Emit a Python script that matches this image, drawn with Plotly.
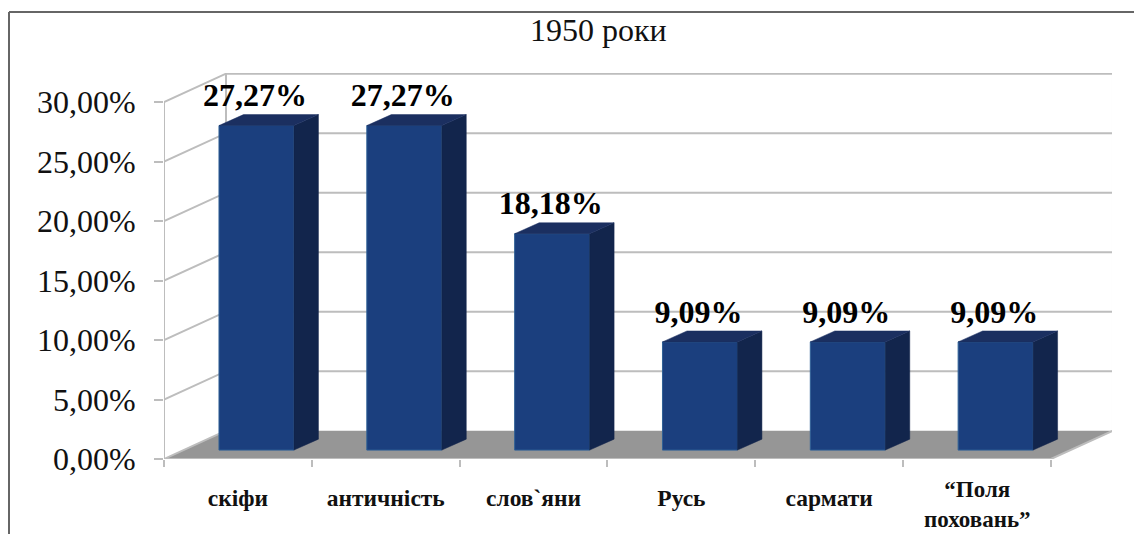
import plotly.graph_objects as go

categories = ["скіфи", "античність", "слов`яни", "Русь", "сармати", "“Поля<br>поховань”"]
values = [27.27, 27.27, 18.18, 9.09, 9.09, 9.09]
value_labels = ["27,27%", "27,27%", "18,18%", "9,09%", "9,09%", "9,09%"]
y_ticks = [0, 5, 10, 15, 20, 25, 30]
y_tick_labels = ["0,00%", "5,00%", "10,00%", "15,00%", "20,00%", "25,00%", "30,00%"]
title_text = "1950 роки"

W, H = 1134, 534
L, R, T, B = 164, 1112, 73, 459
x_unit = 147.83
y_unit = 11.9
x0 = -0.5
x_max = x0 + (R - L) / x_unit
y_max = (B - T) / y_unit
wall_dx, wall_dy = 62 / x_unit, 28.3 / y_unit
bar_off, bar_w, bar_base = 0.1255, 0.507, 0.75
bar_dx, bar_dy = 24.5 / x_unit, 0.92
n = len(categories)
x_end = x0 + n

FRONT, SIDE, TOP_C = "#1b3f7e", "#12254c", "#1b2f60"
GRID, FLOOR, INK = "#bdbdbd", "#969696", "#111111"
SERIF = "Liberation Serif, Times New Roman, serif"


def path(points):
    return "M " + " L ".join(f"{a},{b}" for a, b in points)


shapes = []
# floor and walls (below the bars)
shapes.append(dict(type="path", layer="below", xref="x", yref="y", line=dict(width=0), fillcolor=FLOOR,
                   path=path([(x0, 0), (x_end, 0), (x_end + wall_dx, wall_dy), (x0 + wall_dx, wall_dy)]) + " Z"))
for t in y_ticks[1:]:
    shapes.append(dict(type="path", layer="below", xref="x", yref="y", line=dict(color=GRID, width=2),
                       path=path([(x0, t), (x0 + wall_dx, t + wall_dy), (x_end + wall_dx, t + wall_dy)])))
for xv in (x0, x0 + wall_dx, x_end + wall_dx):
    base = wall_dy if xv != x0 else 0
    shapes.append(dict(type="line", layer="below", xref="x", yref="y", x0=xv, x1=xv, y0=base,
                       y1=y_ticks[-1] + base, line=dict(color=GRID, width=2)))
shapes.append(dict(type="path", layer="below", xref="x", yref="y", line=dict(color=GRID, width=2),
                   path=path([(x0, 0), (x_end, 0), (x_end + wall_dx, wall_dy)])))
shapes.append(dict(type="path", layer="below", xref="x", yref="y", line=dict(color=GRID, width=2),
                   path=path([(x0, 0), (x0 + wall_dx, wall_dy)])))
# outer chart frame
px = lambda v: (v - L) / (R - L)
py = lambda v: (B - v) / (B - T)
frame = dict(type="line", xref="paper", yref="paper", line=dict(color="#666666", width=2))
shapes.append({**frame, "x0": px(9), "x1": px(9), "y0": py(H), "y1": py(12)})
shapes.append({**frame, "x0": px(9), "x1": px(W), "y0": py(12), "y1": py(12)})

fig = go.Figure()
xs = list(range(n))
fig.add_trace(go.Bar(x=xs, y=values, base=[bar_base] * n, width=bar_w, offset=bar_off - bar_w / 2,
                     marker=dict(color=FRONT, line=dict(color="#2f6096", width=1)), hoverinfo="skip"))
for i, v in enumerate(values):
    xl = i + bar_off - bar_w / 2
    xr = xl + bar_w
    bot, top = bar_base, bar_base + v
    fig.add_trace(go.Scatter(x=[xr, xr + bar_dx, xr + bar_dx, xr, xr], y=[bot, bot + bar_dy, top + bar_dy, top, bot],
                             mode="lines", fill="toself", fillcolor=SIDE, line=dict(color=SIDE, width=0.5), hoverinfo="skip"))
    fig.add_trace(go.Scatter(x=[xl, xr, xr + bar_dx, xl + bar_dx, xl], y=[top, top, top + bar_dy, top + bar_dy, top],
                             mode="lines", fill="toself", fillcolor=TOP_C, line=dict(color=TOP_C, width=0.5), hoverinfo="skip"))
fig.add_trace(go.Scatter(x=[i + bar_off - 0.01 for i in xs], y=[v + bar_base + 0.95 for v in values],
                         mode="text", text=value_labels, textposition="top center", cliponaxis=False,
                         textfont=dict(family=SERIF, size=32, color="#000000"), texttemplate="<b>%{text}</b>", hoverinfo="skip"))

# single-line category names are tick labels; the two-line one sits in the space left at the page bottom
tick_text = [f"<b>{c}</b>" if "<br>" not in c else "" for c in categories]
wrapped = [dict(text="<b>" + c.replace("<br>", "</b><br><b>") + "</b>", xref="x", yref="paper", x=i, y=py(533.5), xanchor="center",
                yanchor="bottom", showarrow=False, font=dict(family=SERIF, size=23, color=INK))
           for i, c in enumerate(categories) if "<br>" in c]

fig.update_layout(
    width=W, height=H, autosize=False, showlegend=False, barmode="overlay",
    margin=dict(l=L, r=W - R, t=T, b=H - B, pad=0, autoexpand=False),
    paper_bgcolor="white", plot_bgcolor="white", shapes=shapes,
    annotations=[dict(text=title_text, xref="paper", yref="paper", x=px(598), y=py(30), xanchor="center", yanchor="middle",
                      showarrow=False, font=dict(family=SERIF, size=32, color=INK))] + wrapped,
    xaxis=dict(range=[x0, x_max], automargin=False, showgrid=False, zeroline=False, showline=False, tickmode="array", tickvals=xs,
               ticktext=tick_text, ticks="", ticklabelstandoff=22,
               tickfont=dict(family=SERIF, size=23.5, color=INK),
               minor=dict(tickmode="array", tickvals=[x0 + i for i in range(n + 1)], ticks="outside", ticklen=7,
                          tickwidth=2, tickcolor=GRID, showgrid=False)),
    yaxis=dict(range=[0, y_max], automargin=False, showgrid=False, zeroline=False, showline=False, tickmode="array", tickvals=y_ticks,
               ticktext=y_tick_labels, ticks="outside", ticklen=9, tickwidth=2, tickcolor=GRID, ticklabelstandoff=12,
               tickfont=dict(family=SERIF, size=32, color=INK)),
)
fig.write_html("out.html", config=dict(displayModeBar=False),
               post_script="document.body.style.margin='0';document.body.style.overflow='hidden';")
